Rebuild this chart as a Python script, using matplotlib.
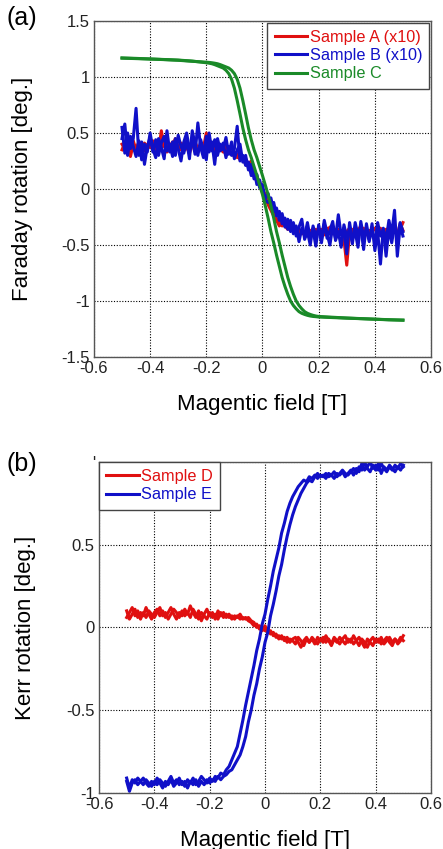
import numpy as np
import matplotlib
matplotlib.use("Agg")
import matplotlib.pyplot as plt

plt.rcParams["font.family"] = ["Liberation Sans", "DejaVu Sans"]

# ---------------- panel (a): Faraday rotation ----------------
# Sample C: two branches of the loop on a non-uniform field grid
field_c = ([-0.50, -0.45, -0.40, -0.35, -0.30, -0.25]
           + [round(-0.20 + 0.01 * i, 2) for i in range(41)]
           + [0.25, 0.30, 0.35, 0.40, 0.45, 0.50])
c_left = [1.17, 1.166, 1.161, 1.156, 1.151, 1.142,
          1.127, 1.123, 1.118, 1.11, 1.10, 1.09, 1.08, 1.06, 1.03, 0.98, 0.90,
          0.79, 0.67, 0.545, 0.44, 0.35, 0.28, 0.20, 0.12, 0.035, -0.05,
          -0.15, -0.26, -0.38, -0.48, -0.59, -0.69, -0.79, -0.87, -0.94, -1.0,
          -1.04, -1.07, -1.095, -1.11, -1.12, -1.128, -1.134, -1.138, -1.14, -1.143,
          -1.148, -1.153, -1.158, -1.163, -1.168, -1.17]
c_right = [1.168, 1.164, 1.16, 1.155, 1.149, 1.14,
           1.132, 1.13, 1.127, 1.123, 1.118, 1.11, 1.10, 1.09, 1.08, 1.06, 1.03,
           0.98, 0.90, 0.79, 0.67, 0.545, 0.44, 0.35, 0.28, 0.20, 0.12,
           0.035, -0.05, -0.15, -0.26, -0.38, -0.48, -0.59, -0.69, -0.79, -0.87,
           -0.94, -1.0, -1.04, -1.07, -1.095, -1.11, -1.12, -1.128, -1.134, -1.138,
           -1.145, -1.152, -1.157, -1.162, -1.167, -1.172]

# Samples A and B (x10): sweep from -0.5 T to 0.5 T in 0.01 T steps
a_up = [0.40, 0.36, 0.31, 0.38, 0.43, 0.35, 0.39, 0.33, 0.41, 0.37,
        0.44, 0.36, 0.40, 0.34, 0.52, 0.38, 0.42, 0.35, 0.39, 0.45,
        0.37, 0.41, 0.34, 0.40, 0.36, 0.43, 0.38, 0.33, 0.41, 0.37,
        0.50, 0.36, 0.40, 0.34, 0.39, 0.36, 0.33, 0.38, 0.34, 0.31,
        0.33, 0.28, 0.30, 0.26, 0.27, 0.22, 0.25, 0.17, 0.11, 0.05,
        0.00, -0.05, -0.11, -0.16, -0.21, -0.28, -0.33, -0.30, -0.33, -0.36,
        -0.34, -0.38, -0.35, -0.40, -0.37, -0.41, -0.36, -0.39, -0.35, -0.41,
        -0.38, -0.36, -0.41, -0.37, -0.34, -0.40, -0.36, -0.42, -0.38, -0.45,
        -0.68, -0.39, -0.36, -0.41, -0.37, -0.33, -0.40, -0.36, -0.42, -0.38,
        -0.35, -0.40, -0.37, -0.43, -0.38, -0.34, -0.40, -0.36, -0.41, -0.31,
        -0.37]
a_down = [0.35, 0.41, 0.37, 0.29, 0.40, 0.36, 0.42, 0.38, 0.34, 0.40,
          0.37, 0.43, 0.35, 0.39, 0.36, 0.41, 0.33, 0.38, 0.42, 0.36,
          0.39, 0.35, 0.41, 0.37, 0.32, 0.39, 0.42, 0.36, 0.39, 0.35,
          0.38, 0.43, 0.36, 0.39, 0.34, 0.38, 0.35, 0.31, 0.36, 0.32,
          0.29, 0.31, 0.26, 0.28, 0.22, 0.20, 0.16, 0.12, 0.07, 0.03,
          -0.03, -0.08, -0.14, -0.19, -0.24, -0.27, -0.29, -0.33, -0.31, -0.34,
          -0.37, -0.35, -0.39, -0.36, -0.40, -0.38, -0.42, -0.37, -0.40, -0.36,
          -0.39, -0.42, -0.38, -0.35, -0.40, -0.37, -0.41, -0.36, -0.39, -0.42,
          -0.38, -0.35, -0.40, -0.37, -0.42, -0.39, -0.35, -0.41, -0.37, -0.40,
          -0.44, -0.38, -0.35, -0.39, -0.36, -0.41, -0.37, -0.34, -0.40, -0.36,
          -0.30]
b_up = [0.55, 0.32, 0.50, 0.36, 0.45, 0.72, 0.30, 0.42, 0.22, 0.38,
        0.46, 0.33, 0.44, 0.30, 0.41, 0.47, 0.34, 0.40, 0.29, 0.45,
        0.36, 0.25, 0.42, 0.50, 0.35, 0.44, 0.31, 0.59, 0.37, 0.28,
        0.47, 0.33, 0.42, 0.22, 0.45, 0.34, 0.41, 0.28, 0.38, 0.30,
        0.36, 0.56, 0.25, 0.30, 0.21, 0.24, 0.12, 0.17, 0.04, 0.08,
        -0.03, -0.08, -0.04, -0.15, -0.12, -0.24, -0.20, -0.31, -0.26, -0.36,
        -0.28, -0.40, -0.33, -0.47, -0.35, -0.42, -0.30, -0.44, -0.37, -0.51,
        -0.32, -0.45, -0.28, -0.40, -0.50, -0.33, -0.44, -0.23, -0.41, -0.35,
        -0.58, -0.30, -0.45, -0.38, -0.52, -0.29, -0.43, -0.36, -0.47, -0.31,
        -0.55, -0.38, -0.67, -0.35, -0.46, -0.28, -0.40, -0.19, -0.60, -0.33,
        -0.42]
b_down = [0.45, 0.58, 0.30, 0.47, 0.38, 0.29, 0.43, 0.26, 0.40, 0.33,
          0.50, 0.36, 0.28, 0.45, 0.37, 0.27, 0.52, 0.33, 0.42, 0.30,
          0.48, 0.38, 0.32, 0.43, 0.27, 0.52, 0.40, 0.30, 0.44, 0.35,
          0.26, 0.50, 0.34, 0.44, 0.30, 0.40, 0.35, 0.46, 0.31, 0.42,
          0.27, 0.35, 0.40, 0.24, 0.30, 0.17, 0.22, 0.09, 0.13, 0.01,
          0.04, -0.10, -0.12, -0.08, -0.20, -0.17, -0.28, -0.22, -0.34, -0.27,
          -0.38, -0.30, -0.42, -0.34, -0.27, -0.45, -0.38, -0.50, -0.33, -0.42,
          -0.36, -0.48, -0.31, -0.44, -0.37, -0.29, -0.46, -0.38, -0.52, -0.32,
          -0.43, -0.36, -0.49, -0.30, -0.41, -0.34, -0.54, -0.31, -0.45, -0.38,
          -0.47, -0.30, -0.42, -0.36, -0.60, -0.35, -0.48, -0.33, -0.44, -0.30,
          -0.38]

# ---------------- panel (b): Kerr rotation ----------------
d_up = [0.10, 0.05, 0.08, 0.11, 0.06, 0.09, 0.07, 0.12, 0.08, 0.05,
        0.09, 0.11, 0.07, 0.10, 0.06, 0.09, 0.12, 0.08, 0.05, 0.09,
        0.07, 0.11, 0.08, 0.13, 0.09, 0.06, 0.10, 0.04, 0.08, 0.11,
        0.07, 0.09, 0.05, 0.10, 0.07, 0.09, 0.06, 0.08, 0.05, 0.07,
        0.06, 0.08, 0.05, 0.06, 0.04, 0.03, 0.01, 0.02, -0.01, 0.00,
        -0.02, -0.01, -0.04, -0.03, -0.06, -0.05, -0.07, -0.06, -0.09, -0.07,
        -0.08, -0.10, -0.06, -0.08, -0.11, -0.07, -0.09, -0.06, -0.08, -0.10,
        -0.07, -0.09, -0.05, -0.08, -0.11, -0.07, -0.09, -0.06, -0.08, -0.10,
        -0.07, -0.09, -0.05, -0.08, -0.11, -0.07, -0.09, -0.12, -0.08, -0.06,
        -0.09, -0.07, -0.10, -0.08, -0.06, -0.09, -0.11, -0.07, -0.09, -0.06,
        -0.08]
d_down = [0.06, 0.09, 0.12, 0.07, 0.10, 0.05, 0.09, 0.06, 0.10, 0.08,
          0.06, 0.09, 0.12, 0.07, 0.09, 0.05, 0.08, 0.11, 0.09, 0.06,
          0.10, 0.07, 0.09, 0.06, 0.11, 0.08, 0.05, 0.09, 0.07, 0.05,
          0.09, 0.06, 0.08, 0.05, 0.09, 0.06, 0.08, 0.06, 0.07, 0.05,
          0.07, 0.05, 0.06, 0.05, 0.06, 0.04, 0.03, 0.00, 0.01, -0.02,
          0.01, -0.03, -0.02, -0.05, -0.04, -0.07, -0.05, -0.08, -0.06, -0.09,
          -0.07, -0.06, -0.09, -0.12, -0.08, -0.06, -0.09, -0.07, -0.10, -0.06,
          -0.08, -0.06, -0.09, -0.07, -0.10, -0.06, -0.08, -0.10, -0.07, -0.05,
          -0.09, -0.07, -0.10, -0.08, -0.06, -0.09, -0.12, -0.07, -0.09, -0.11,
          -0.07, -0.09, -0.06, -0.10, -0.08, -0.06, -0.09, -0.07, -0.10, -0.08,
          -0.05]
e_up = [-0.91, -0.97, -0.92, -0.94, -0.91, -0.93, -0.95, -0.92, -0.94, -0.96,
        -0.93, -0.95, -0.92, -0.94, -0.96, -0.93, -0.90, -0.94, -0.92, -0.95,
        -0.93, -0.96, -0.92, -0.94, -0.91, -0.95, -0.93, -0.90, -0.92, -0.94,
        -0.91, -0.93, -0.90, -0.91, -0.88, -0.89, -0.86, -0.84, -0.80, -0.76,
        -0.72, -0.64, -0.56, -0.47, -0.39, -0.31, -0.23, -0.14, -0.07, 0.02,
        0.08, 0.17, 0.25, 0.34, 0.41, 0.48, 0.57, 0.63, 0.70, 0.75,
        0.79, 0.82, 0.85, 0.87, 0.89, 0.88, 0.91, 0.90, 0.92, 0.90,
        0.92, 0.91, 0.93, 0.91, 0.92, 0.90, 0.93, 0.92, 0.94, 0.91,
        0.93, 0.95, 0.92, 0.96, 0.94, 0.99, 0.95, 0.97, 1.00, 0.96,
        0.98, 0.95, 0.99, 0.96, 0.94, 0.97, 0.95, 0.98, 0.96, 0.99,
        0.97]
e_down = [-0.93, -0.99, -0.94, -0.92, -0.95, -0.93, -0.91, -0.94, -0.96, -0.93,
          -0.95, -0.91, -0.94, -0.97, -0.93, -0.95, -0.92, -0.96, -0.94, -0.91,
          -0.95, -0.93, -0.97, -0.93, -0.95, -0.92, -0.96, -0.93, -0.95, -0.92,
          -0.94, -0.92, -0.93, -0.90, -0.92, -0.90, -0.89, -0.87, -0.86, -0.83,
          -0.80, -0.77, -0.72, -0.66, -0.57, -0.50, -0.41, -0.34, -0.25, -0.18,
          -0.09, -0.03, 0.07, 0.14, 0.22, 0.31, 0.38, 0.47, 0.55, 0.62,
          0.68, 0.73, 0.77, 0.81, 0.84, 0.87, 0.89, 0.88, 0.91, 0.93,
          0.91, 0.92, 0.90, 0.93, 0.92, 0.94, 0.91, 0.93, 0.95, 0.93,
          0.92, 0.94, 0.96, 0.93, 0.97, 0.95, 1.00, 0.96, 0.94, 0.98,
          0.95, 0.99, 0.93, 0.97, 0.95, 0.98, 0.96, 0.94, 0.97, 0.95,
          0.98]

xticks = [-0.6, -0.4, -0.2, 0, 0.2, 0.4, 0.6]
xtick_labels = ["-0.6", "-0.4", "-0.2", "0", "0.2", "0.4", "0.6"]
yticks_a = [-1.5, -1, -0.5, 0, 0.5, 1, 1.5]
ytick_labels_a = ["-1.5", "-1", "-0.5", "0", "0.5", "1", "1.5"]
yticks_b = [-1, -0.5, 0, 0.5, 1]
ytick_labels_b = ["-1", "-0.5", "0", "0.5", "'"]

RED = "#e01010"
BLUE = "#1010c8"
GREEN = "#1a8a28"


def sweep(values):
    # field points for a -0.5 .. 0.5 T sweep
    return np.linspace(-0.5, 0.5, len(values))


def style_axes(ax, yticks, ylabels):
    ax.set_xlim(-0.6, 0.6)
    ax.set_xticks(xticks)
    ax.set_xticklabels(xtick_labels)
    ax.set_yticks(yticks)
    ax.set_yticklabels(ylabels)
    ax.tick_params(length=0, labelsize=12, pad=3, colors="#222222")
    ax.grid(True, color="black", linestyle=(0, (1, 1.5)), linewidth=0.8)
    for s in ax.spines.values():
        s.set_color("#555555")
        s.set_linewidth(1.0)
    ax.set_xlabel("Magentic field [T]", fontsize=16, labelpad=13)


def style_legend(leg, colors):
    leg.get_frame().set_edgecolor("#444444")
    leg.get_frame().set_linewidth(1.0)
    for t, c in zip(leg.get_texts(), colors):
        t.set_color(c)


fig = plt.figure(figsize=(4.43, 8.49), dpi=100)

ax1 = fig.add_axes([0.212, 0.5795, 0.761, 0.3958])
ax1.plot(sweep(a_up), a_up, color=RED, lw=2.2, label="Sample A (x10)")
ax1.plot(sweep(a_down), a_down, color=RED, lw=2.2)
ax1.plot(sweep(b_up), b_up, color=BLUE, lw=2.2, label="Sample B (x10)")
ax1.plot(sweep(b_down), b_down, color=BLUE, lw=2.2)
ax1.plot(field_c, c_left, color=GREEN, lw=2.2, label="Sample C")
ax1.plot(field_c, c_right, color=GREEN, lw=2.2)
ax1.set_ylim(-1.5, 1.5)
style_axes(ax1, yticks_a, ytick_labels_a)
ax1.set_ylabel("Faraday rotation [deg.]", fontsize=16, labelpad=20)
leg1 = ax1.legend(loc="upper right", fontsize=11.7, handlelength=2.0,
                  handletextpad=0.15, borderpad=0.45, labelspacing=0.2,
                  fancybox=False, framealpha=1, borderaxespad=0.1)
style_legend(leg1, [RED, BLUE, GREEN])
fig.text(0.015, 0.993, "(a)", fontsize=18, va="top")

ax2 = fig.add_axes([0.2235, 0.066, 0.7494, 0.390])
ax2.plot(sweep(d_up), d_up, color=RED, lw=2.2, label="Sample D")
ax2.plot(sweep(d_down), d_down, color=RED, lw=2.2)
ax2.plot(sweep(e_up), e_up, color=BLUE, lw=2.2, label="Sample E")
ax2.plot(sweep(e_down), e_down, color=BLUE, lw=2.2)
ax2.set_ylim(-1, 1)
style_axes(ax2, yticks_b, ytick_labels_b)
ax2.set_ylabel("Kerr rotation [deg.]", fontsize=16, labelpad=22)
leg2 = ax2.legend(loc="upper left", fontsize=11.7, handlelength=2.0,
                  handletextpad=0.15, borderpad=0.45, labelspacing=0.2,
                  fancybox=False, framealpha=1, borderaxespad=0.0)
style_legend(leg2, [RED, BLUE])
fig.text(0.015, 0.468, "(b)", fontsize=18, va="top")

fig.savefig("out.png", dpi=100)
